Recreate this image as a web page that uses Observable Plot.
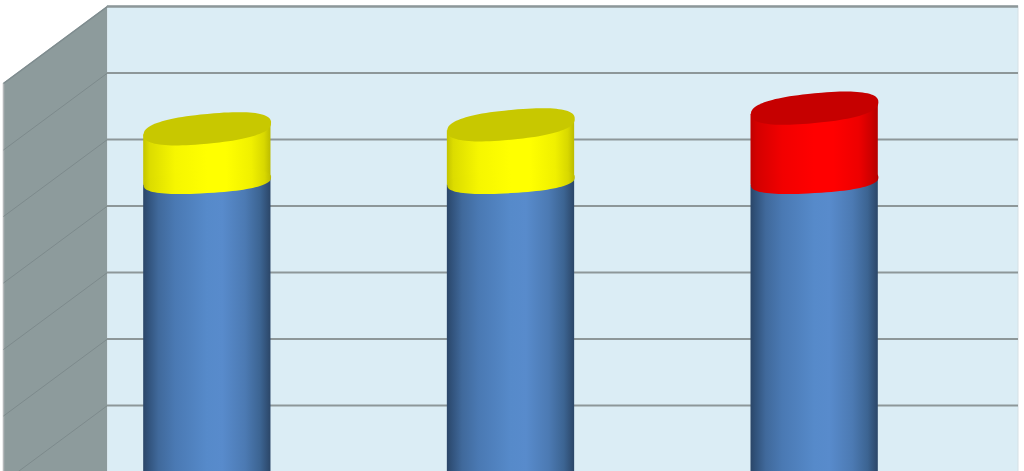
<!DOCTYPE html>
<html>
<head>
<meta charset="utf-8">
<style>
html,body{margin:0;padding:0;background:#fff;overflow:hidden}
svg{display:block}
</style>
<script src="https://cdn.jsdelivr.net/npm/d3@7"></script>
<script src="https://cdn.jsdelivr.net/npm/@observablehq/plot@0.6"></script>
</head>
<body>
<div id="chart"></div>
<script>
// Chart values (the picture carries no labels; names are placeholders for the 3 slots)
const categories = ["First", "Second", "Third"];
const baseValues = [49.5, 49.5, 49.5];
const totalValues = [57.4, 58.0, 60.5];
const capColors = ["yellow", "yellow", "red"];
const gridValues = [0, 10, 20, 30, 40, 50, 60, 70];

// 3D box depth, in scale units
const depthX = 0.3425;
const depthY = 11.58;
const halfWidth = 0.2096;
const capRadius = 63.7;
const topTilt = 0.9;   // rise of the top cap's edge above its centre, scale units
const baseTilt = 0.57; // same for the join between the two segments

const rows = categories.map((c, i) => ({
  c,
  pos: i + 0.5 - depthX / 2,
  base: baseValues[i] - depthY / 2,
  total: totalValues[i] - depthY / 2,
  floor: -depthY / 2,
  color: capColors[i]
}));

// Cylinder sides: each segment's top and bottom edges follow the tilt of its caps
const side = (lowKey, lowTilt, highKey, highTilt) => rows.flatMap((d) => [-1, 1].map((k) => ({
  c: d.c,
  color: d.color,
  x: d.pos + k * halfWidth,
  y1: d[lowKey] + k * lowTilt,
  y2: d[highKey] + k * highTilt
})));
const blueSides = side("floor", 0, "base", baseTilt);
const capSides = side("base", baseTilt, "total", topTilt);

// Sheared, slightly squared ellipse: the cap of a cylinder seen from the side
const capSymbol = (s, ratio) => ({
  draw(ctx, size) {
    const a = Math.sqrt(size / Math.PI), b = a * ratio, n = 96;
    const pow = (v) => Math.sign(v) * Math.abs(v) ** 0.82;
    for (let k = 0; k <= n; ++k) {
      const t = (k / n) * 2 * Math.PI;
      const x = a * pow(Math.cos(t));
      const y = s * x + b * pow(Math.sin(t));
      k ? ctx.lineTo(x, y) : ctx.moveTo(x, y);
    }
    ctx.closePath();
  }
});

function gradientDefs() {
  const defs = d3.create("svg:defs");
  const grads = {
    blue: [[0, "#2b4668"], [0.04, "#31527b"], [0.12, "#40699b"], [0.25, "#4a79b3"], [0.5, "#568aca"], [0.62, "#588bcc"], [0.8, "#4c7ab3"], [0.92, "#3c6492"], [1, "#2b4668"]],
    yellow: [[0, "#c4c400"], [0.05, "#dcdc00"], [0.25, "#f6f600"], [0.5, "#ffff00"], [0.65, "#ffff00"], [0.85, "#f0f000"], [0.95, "#d8d800"], [1, "#bcbc00"]],
    red: [[0, "#c00000"], [0.05, "#d40000"], [0.25, "#f20000"], [0.5, "#ff0000"], [0.65, "#ff0000"], [0.85, "#ee0000"], [0.95, "#cc0000"], [1, "#b40000"]]
  };
  for (const [id, stops] of Object.entries(grads)) {
    const g = defs.append("linearGradient").attr("id", "grad-" + id)
      .attr("x1", 0).attr("x2", 1).attr("y1", 0).attr("y2", 0);
    for (const [o, c] of stops) g.append("stop").attr("offset", o).attr("stop-color", c);
  }
  return defs.node();
}

const grid = "#8d9799";
const wall = [
  {x: -depthX, y1: -depthY, y2: 70 - depthY},
  {x: 0, y1: 0, y2: 70}
];

const plot = Plot.plot({
  width: 1024,
  height: 471,
  margin: 0,
  style: {background: "#fff"},
  x: {domain: [0, 3], range: [107, 1018], axis: null},
  y: {domain: [0, 70], range: [471.5, 6], axis: null},
  marks: [
    gradientDefs,
    Plot.rect([0], {x1: 0, x2: 3, y1: 0, y2: 70, fill: "#dbedf5", stroke: "#d5e0e5", strokeWidth: 1}),
    Plot.areaY(wall, {x: "x", y1: "y1", y2: "y2", fill: "#8d9b9c"}),
    Plot.ruleX([-depthX], {y1: -depthY, y2: 70 - depthY, stroke: "#b4b8ba", strokeWidth: 1.5}),
    Plot.link(gridValues.slice(0, -1), {x1: -depthX, y1: d => d - depthY, x2: 0, y2: d => d, stroke: "#7d8a8c", strokeWidth: 1}),
    Plot.link([70], {x1: -depthX, y1: d => d - depthY, x2: 0, y2: d => d, stroke: "#7f8c8f", strokeWidth: 1.5}),
    Plot.ruleY(gridValues.slice(1), {x1: 0, x2: 3, stroke: grid, strokeWidth: d => d === 70 ? 2.4 : 1.8}),
    Plot.areaY(blueSides, {x: "x", y1: "y1", y2: "y2", z: "c", fill: "url(#grad-blue)"}),
    Plot.areaY(capSides, {x: "x", y1: "y1", y2: "y2", z: "c", fill: d => `url(#grad-${d.color})`}),
    Plot.dot(rows, {x: "pos", y: "base", r: capRadius, symbol: capSymbol(-0.06, 0.185), fill: d => `url(#grad-${d.color})`, stroke: "none"}),
    Plot.dot(rows, {x: "pos", y: "total", r: capRadius, symbol: capSymbol(-0.094, 0.233), fill: d => d.color === "red" ? "#c60000" : "#c8c800", stroke: "none"})
  ]
});
document.getElementById("chart").append(plot);
</script>
</body>
</html>
